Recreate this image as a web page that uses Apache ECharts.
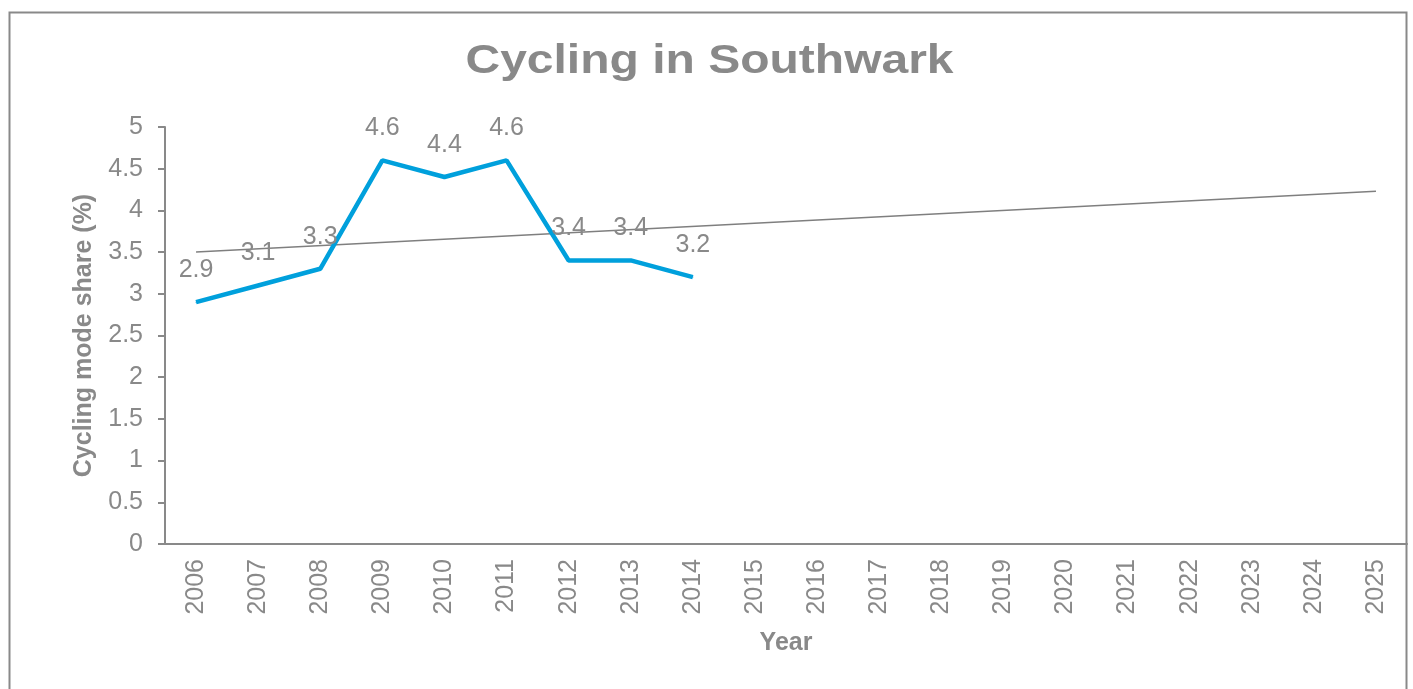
<!DOCTYPE html>
<html><head><meta charset="utf-8">
<script src="https://cdn.jsdelivr.net/npm/echarts@6/dist/echarts.min.js"></script>
<style>html,body{margin:0;padding:0;background:#fff}#c{width:1413px;height:689px}</style>
</head><body><div id="c"></div>
<script>
const years = ['2006','2007','2008','2009','2010','2011','2012','2013','2014','2015','2016','2017','2018','2019','2020','2021','2022','2023','2024','2025'];
const cyclingShare = [2.9, 3.1, 3.3, 4.6, 4.4, 4.6, 3.4, 3.4, 3.2];
const trendYears = ['2006', '2025'];
const trendValues = [3.5, 4.23];
const titleText = 'Cycling in Southwark';

const grey = '#898989';
const font = 'Liberation Sans, Arial, sans-serif';
const chart = echarts.init(document.getElementById('c'), null, {renderer: 'canvas'});
chart.setOption({
  animation: false,
  backgroundColor: '#fff',
  graphic: [{
    type: 'rect', shape: {x: 9.5, y: 12.5, width: 1397, height: 720},
    style: {fill: null, stroke: grey, lineWidth: 2}
  }, {
    type: 'text', x: 709.5, y: 42, scaleX: 1.2,
    style: {text: titleText, x: 0, y: 0, textAlign: 'center', textVerticalAlign: 'top',
      font: 'bold 40px Liberation Sans, Arial, sans-serif', fill: grey}
  }],
  grid: {left: 165, right: 6, top: 127, bottom: 145},
  xAxis: {
    type: 'category', data: years, boundaryGap: true,
    name: 'Year', nameLocation: 'middle', nameGap: 87,
    nameTextStyle: {fontFamily: font, fontSize: 25, fontWeight: 'bold', color: grey},
    axisLine: {lineStyle: {color: grey, width: 2}},
    axisTick: {length: 6, lineStyle: {color: grey, width: 2}},
    axisLabel: {rotate: 90, margin: 15, fontFamily: font, fontSize: 25, color: grey}
  },
  yAxis: {
    type: 'value', min: 0, max: 5, interval: 0.5,
    name: 'Cycling mode share (%)', nameLocation: 'middle', nameGap: 68,
    nameTextStyle: {fontFamily: font, fontSize: 25, fontWeight: 'bold', color: grey},
    axisLine: {show: true, lineStyle: {color: grey, width: 2}},
    axisTick: {show: true, length: 7, lineStyle: {color: grey, width: 2}},
    splitLine: {show: false},
    axisLabel: {margin: 22, fontFamily: font, fontSize: 25, color: grey}
  },
  series: [{
    type: 'line', data: cyclingShare, symbol: 'circle', symbolSize: 1, showSymbol: true,
    itemStyle: {color: '#00a0dc'},
    lineStyle: {color: '#00a0dc', width: 4.5}, z: 3,
    label: {show: true, position: 'top', distance: 19, fontFamily: font, fontSize: 25, color: grey}
  }, {
    type: 'line', data: trendYears.map((y, i) => [y, trendValues[i]]), symbol: 'none',
    lineStyle: {color: '#7f7f7f', width: 1.5}, z: 2
  }]
});
</script></body></html>
